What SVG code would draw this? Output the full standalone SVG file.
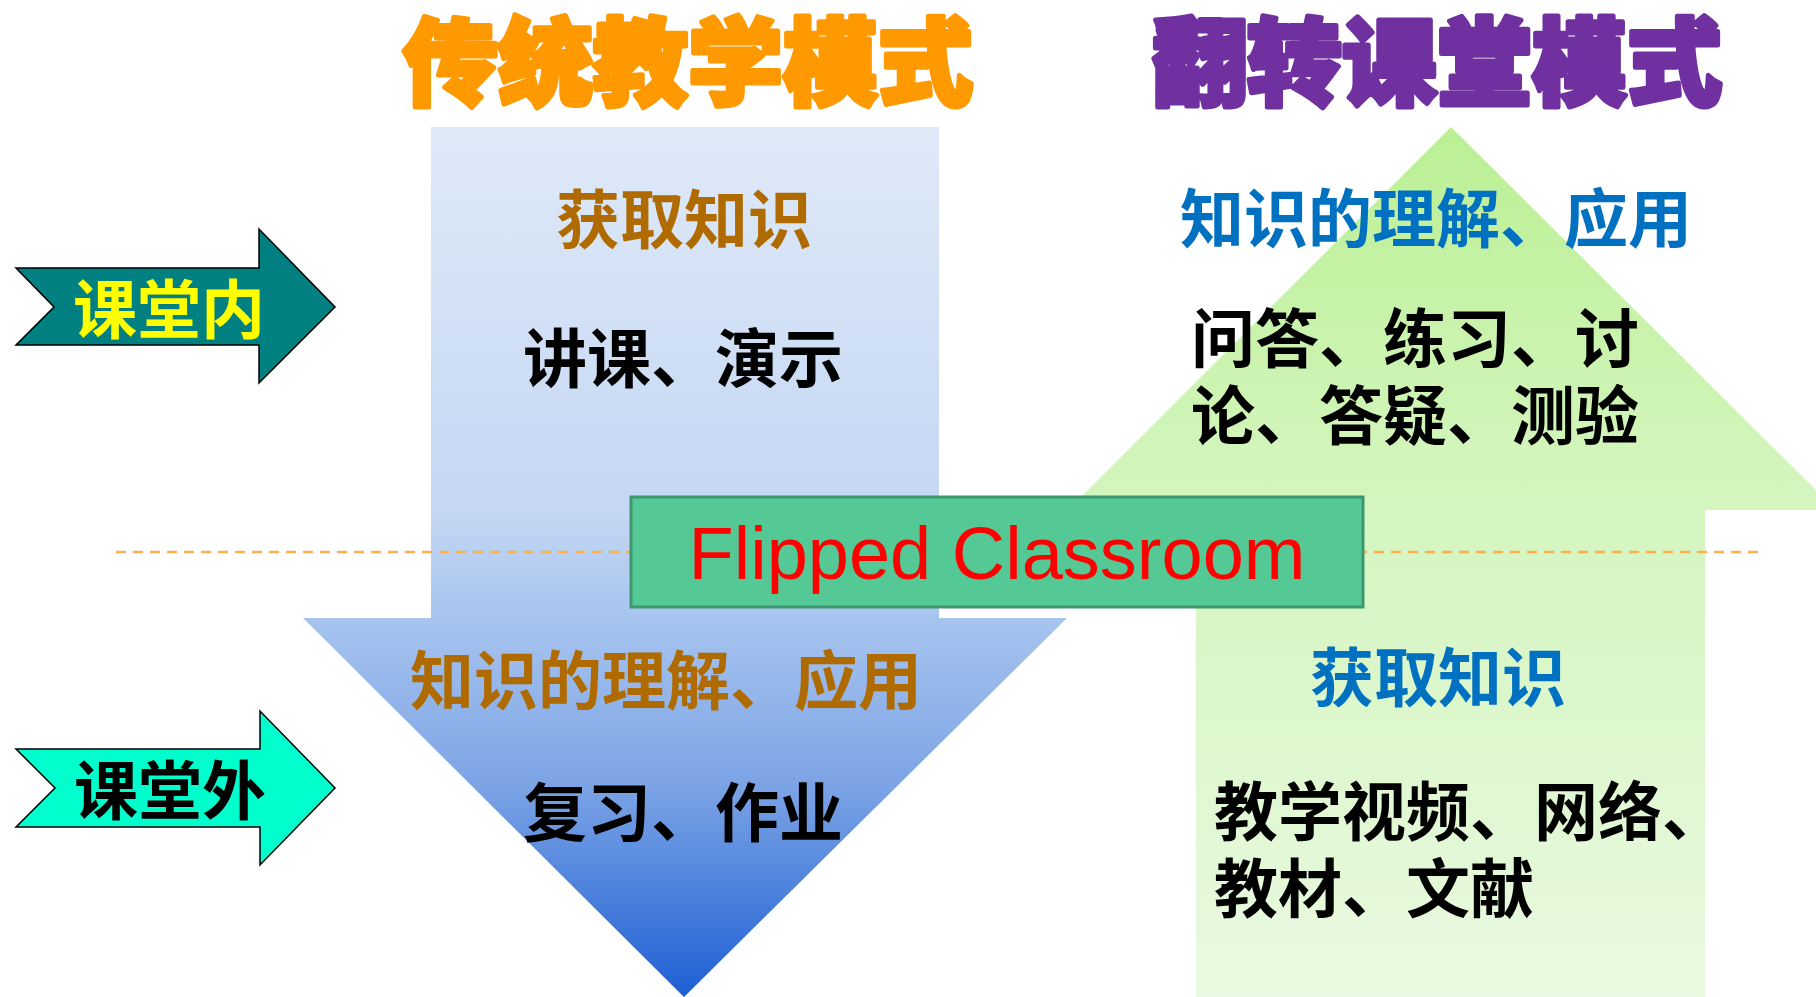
<svg xmlns="http://www.w3.org/2000/svg" width="1816" height="997" viewBox="0 0 1816 997">
<style>
.cjk{font-family:"Noto Sans CJK SC","Noto Sans CJK JP",sans-serif;font-weight:700;font-size:64px}
.mid{text-anchor:middle}
.title{font-family:"Noto Sans CJK SC","Noto Sans CJK JP",sans-serif;font-weight:900;font-size:95px;text-anchor:middle;stroke-width:5;stroke-linejoin:round}
.brown{fill:#AF6A00}
.blue{fill:#0070C0}
.black{fill:#000000}
.side{stroke:#000000;stroke-width:1.5}
</style>
<defs>
<linearGradient id="gDown" gradientUnits="userSpaceOnUse" x1="0" y1="127" x2="0" y2="997">
<stop offset="0" stop-color="#DFEAF8"/>
<stop offset="0.45" stop-color="#C3D6F3"/>
<stop offset="0.56" stop-color="#A8C5EF"/>
<stop offset="0.76" stop-color="#7BA3E5"/>
<stop offset="1" stop-color="#1D5FD3"/>
</linearGradient>
<linearGradient id="gUp" gradientUnits="userSpaceOnUse" x1="0" y1="127" x2="0" y2="997">
<stop offset="0" stop-color="#BBEF94"/>
<stop offset="0.38" stop-color="#D2F5BB"/>
<stop offset="1" stop-color="#E9F9E1"/>
</linearGradient>
</defs>
<rect width="1816" height="997" fill="#FFFFFF"/>

<g id="title-traditional">
<text class="title" x="688" y="98" fill="#FF9900" stroke="#FF9900">传统教学模式</text>
</g>
<g id="title-flipped">
<text class="title" x="1437" y="98" fill="#7030A0" stroke="#7030A0">翻转课堂模式</text>
</g>

<g id="arrow-down">
<polygon points="431,127 939,127 939,618 1067,618 684,997 303,618 431,618" fill="url(#gDown)"/>
<text class="cjk mid brown" x="684" y="243">获取知识</text>
<text class="cjk mid black" x="683" y="382">讲课、演示</text>
<text class="cjk mid brown" x="666" y="704">知识的理解、应用</text>
<text class="cjk mid black" x="683" y="836">复习、作业</text>
</g>

<g id="arrow-up">
<polygon points="1451,127 1836,510 1705,510 1705,997 1196,997 1196,510 1068,510" fill="url(#gUp)"/>
<text class="cjk mid blue" x="1436" y="242">知识的理解、应用</text>
<text class="cjk black" x="1191" y="362"><tspan x="1191" y="362">问答、练习、讨</tspan><tspan x="1191" y="439">论、答疑、测验</tspan></text>
<text class="cjk mid blue" x="1438" y="701">获取知识</text>
<text class="cjk black" x="1214" y="835"><tspan x="1214" y="835">教学视频、网络、</tspan><tspan x="1214" y="912">教材、文献</tspan></text>
</g>

<g id="arrow-inside">
<polygon class="side" points="16,268 259,268 259,229 335,307 259,383 259,345 16,345 54,307" fill="#008080"/>
<text class="cjk mid" x="169" y="333" fill="#FFFF00">课堂内</text>
</g>

<g id="arrow-outside">
<polygon class="side" points="16,749 260,749 260,711 335,788 260,865 260,827 16,827 55,788" fill="#00FFCC"/>
<text class="cjk mid black" x="170" y="814">课堂外</text>
</g>

<g id="connectors">
<line x1="116" y1="552" x2="1758" y2="552" stroke="#FAB14B" stroke-width="2.5" stroke-dasharray="10 7"/>
</g>

<g id="flipped-classroom">
<rect x="631" y="497" width="732" height="110" fill="#55C995" stroke="#3E9770" stroke-width="3"/>
<text x="997" y="579" font-family="'Liberation Sans', Arial, sans-serif" font-size="74" fill="#FF0000" text-anchor="middle">Flipped Classroom</text>
</g>
</svg>
